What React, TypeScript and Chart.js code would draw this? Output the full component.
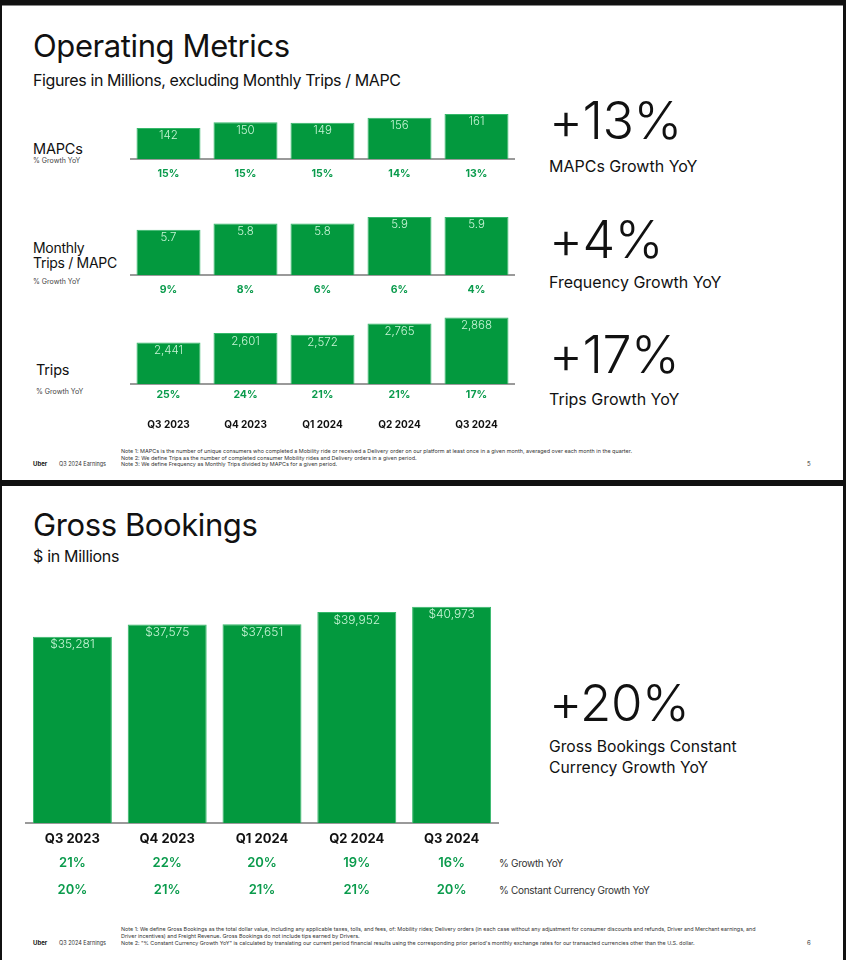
import React, { useEffect, useRef } from 'react';
import { Chart, registerables } from 'chart.js';

Chart.register(...registerables);

// ---------- data ----------
const quarters = ['Q3 2023', 'Q4 2023', 'Q1 2024', 'Q2 2024', 'Q3 2024'];

const mapcs = [142, 150, 149, 156, 161];
const mapcsGrowth = ['15%', '15%', '15%', '14%', '13%'];

const tripsPerMapc = [5.7, 5.8, 5.8, 5.9, 5.9];
const tripsPerMapcGrowth = ['9%', '8%', '6%', '6%', '4%'];

const trips = [2441, 2601, 2572, 2765, 2868];
const tripsGrowth = ['25%', '24%', '21%', '21%', '17%'];

const grossBookings = [35281, 37575, 37651, 39952, 40973];
const gbGrowth = ['21%', '22%', '20%', '19%', '16%'];
const gbCcGrowth = ['20%', '21%', '21%', '21%', '20%'];

// ---------- styles ----------
const FONT = 'Inter, "Open Sans", "DejaVu Sans", sans-serif';
const BAR = '#03993e';
const BAR_EDGE = '#35b86a';
const VALUE_COLOR = '#c9f5d7';
const GROWTH_COLOR = '#0a9b4c';
const AXIS = '#9a9a9a';

type Row = { values: string[]; offset: number; font: string; color: string };

function makeBarText(format: (v: number) => string, valueFont: string, valueOffset: number, rows: Row[]) {
  return {
    id: 'barText',
    afterDatasetsDraw(chart: any) {
      const { ctx } = chart;
      const meta = chart.getDatasetMeta(0);
      const xScale = chart.scales.x;
      const data = chart.data.datasets[0].data as number[];
      ctx.save();
      ctx.textAlign = 'center';
      ctx.textBaseline = 'middle';
      meta.data.forEach((bar: any, i: number) => {
        ctx.font = valueFont;
        ctx.fillStyle = VALUE_COLOR;
        ctx.fillText(format(data[i]), bar.x, bar.y + valueOffset);
        rows.forEach((row) => {
          ctx.font = row.font;
          ctx.fillStyle = row.color;
          ctx.fillText(row.values[i], xScale.getPixelForValue(i), xScale.top + row.offset);
        });
      });
      ctx.restore();
    },
  };
}

type BarProps = {
  left: number;
  top: number;
  width: number;
  areaHeight: number;
  axisHeight: number;
  data: number[];
  min: number;
  max: number;
  barPct: number;
  showTicks: boolean;
  tickFont: number;
  tickLength: number;
  tickPadding: number;
  format: (v: number) => string;
  valueFont: string;
  valueOffset: number;
  rows: Row[];
};

function BarChart(p: BarProps) {
  const ref = useRef<HTMLCanvasElement | null>(null);
  useEffect(() => {
    if (!ref.current) return;
    const chart = new Chart(ref.current, {
      type: 'bar',
      data: {
        labels: quarters,
        datasets: [
          {
            data: p.data,
            backgroundColor: BAR,
            borderColor: BAR_EDGE,
            borderWidth: 1,
            categoryPercentage: 1,
            barPercentage: p.barPct,
          },
        ],
      },
      options: {
        animation: false,
        responsive: false,
        devicePixelRatio: 1,
        layout: { padding: 0 },
        plugins: { legend: { display: false }, tooltip: { enabled: false } },
        scales: {
          x: {
            grid: { display: false, tickLength: p.tickLength },
            border: { color: AXIS, width: 2 },
            ticks: {
              display: p.showTicks,
              color: '#111',
              font: { family: FONT, size: p.tickFont, weight: 'bold' },
              padding: p.tickPadding,
              maxRotation: 0,
            },
            afterFit: (s: any) => {
              s.height = p.axisHeight;
            },
          },
          y: { display: false, min: p.min, max: p.max },
        },
      },
      plugins: [makeBarText(p.format, p.valueFont, p.valueOffset, p.rows)],
    } as any);
    return () => chart.destroy();
  }, []);
  const h = p.areaHeight + p.axisHeight;
  return (
    <canvas
      ref={ref}
      width={p.width}
      height={h}
      style={{ position: 'absolute', left: p.left, top: p.top, width: p.width, height: h }}
    />
  );
}

function T(props: {
  x: number;
  y: number;
  size: number;
  children: React.ReactNode;
  weight?: number;
  color?: string;
  ls?: number;
}) {
  const { x, y, size, weight = 400, color = '#111', ls = 0 } = props;
  return (
    <div
      style={{
        position: 'absolute',
        left: x,
        top: y - size * 0.6,
        fontSize: size,
        lineHeight: `${size * 1.2}px`,
        fontWeight: weight,
        color,
        whiteSpace: 'nowrap',
        letterSpacing: ls,
        fontFamily: FONT,
      }}
    >
      {props.children}
    </div>
  );
}

const growthFontTop = `bold 10.5px ${FONT}`;
const growthFontBottom = `600 13px ${FONT}`;
const valueFontTop = `300 11.5px ${FONT}`;
const valueFontBottom = `300 12px ${FONT}`;

export default function App() {
  useEffect(() => {
    document.body.style.margin = '0';
  }, []);
  return (
    <div
      style={{
        position: 'absolute',
        left: 0,
        top: 0,
        width: 846,
        height: 960,
        background: '#fff',
        overflow: 'hidden',
        fontFamily: FONT,
      }}
    >
      {/* frame */}
      <div style={{ position: 'absolute', left: 0, top: 0, width: 846, height: 5, background: '#111' }} />
      <div style={{ position: 'absolute', left: 0, top: 5, width: 846, height: 1, background: '#888' }} />
      <div style={{ position: 'absolute', left: 0, top: 0, width: 2, height: 960, background: '#111' }} />
      <div style={{ position: 'absolute', left: 843, top: 0, width: 3, height: 960, background: '#111' }} />
      <div style={{ position: 'absolute', left: 0, top: 480, width: 846, height: 6, background: '#111' }} />

      {/* ---------- slide 1 ---------- */}
      <T x={33} y={46} size={31} ls={-0.4}>Operating Metrics</T>
      <T x={33} y={81} size={16} ls={-0.4}>Figures in Millions, excluding Monthly Trips / MAPC</T>

      <T x={33} y={148.5} size={14.5} ls={-0.2}>MAPCs</T>
      <T x={33} y={161} size={7} color="#444">% Growth YoY</T>

      <T x={33} y={248} size={14} ls={-0.3}>Monthly</T>
      <T x={33} y={263} size={14} ls={-0.3}>Trips / MAPC</T>
      <T x={33} y={282} size={7} color="#444">% Growth YoY</T>

      <T x={36} y={370} size={14.5} ls={-0.2}>Trips</T>
      <T x={36} y={392.5} size={7} color="#444">% Growth YoY</T>

      <BarChart
        left={130}
        top={104}
        width={385}
        areaHeight={55}
        axisHeight={26}
        data={mapcs}
        min={100}
        max={174.6}
        barPct={0.831}
        showTicks={false}
        tickFont={10}
        tickLength={8}
        tickPadding={0}
        format={(v) => String(v)}
        valueFont={valueFontTop}
        valueOffset={8}
        rows={[{ values: mapcsGrowth, offset: 14.5, font: growthFontTop, color: GROWTH_COLOR }]}
      />
      <BarChart
        left={130}
        top={212}
        width={385}
        areaHeight={63}
        axisHeight={26}
        data={tripsPerMapc}
        min={5}
        max={5.977}
        barPct={0.831}
        showTicks={false}
        tickFont={10}
        tickLength={8}
        tickPadding={0}
        format={(v) => v.toFixed(1)}
        valueFont={valueFontTop}
        valueOffset={8}
        rows={[{ values: tripsPerMapcGrowth, offset: 14.5, font: growthFontTop, color: GROWTH_COLOR }]}
      />
      <BarChart
        left={130}
        top={310}
        width={385}
        areaHeight={74}
        axisHeight={52}
        data={trips}
        min={1730}
        max={2995}
        barPct={0.831}
        showTicks={true}
        tickFont={10}
        tickLength={33}
        tickPadding={2}
        format={(v) => v.toLocaleString('en-US')}
        valueFont={valueFontTop}
        valueOffset={8}
        rows={[{ values: tripsGrowth, offset: 10.5, font: growthFontTop, color: GROWTH_COLOR }]}
      />

      <T x={549} y={121.5} size={52} weight={300} ls={-0.5}>+13%</T>
      <T x={549} y={167} size={16}>MAPCs Growth YoY</T>
      <T x={549} y={240} size={52} weight={300} ls={-0.5}>+4%</T>
      <T x={549} y={283} size={16}>Frequency Growth YoY</T>
      <T x={549} y={355} size={52} weight={300} ls={-0.5}>+17%</T>
      <T x={549} y={400} size={16}>Trips Growth YoY</T>

      <T x={33} y={464} size={6} weight={700}>Uber</T>
      <T x={59} y={464} size={5.5} color="#333">Q3 2024 Earnings</T>
      <T x={121} y={451} size={5.45} color="#333">
        Note 1: MAPCs is the number of unique consumers who completed a Mobility ride or received a Delivery order on our platform at least once in a given month, averaged over each month in the quarter.
      </T>
      <T x={121} y={458} size={5.45} color="#333">
        Note 2: We define Trips as the number of completed consumer Mobility rides and Delivery orders in a given period.
      </T>
      <T x={121} y={464.5} size={5.45} color="#333">
        Note 3: We define Frequency as Monthly Trips divided by MAPCs for a given period.
      </T>
      <T x={807} y={464} size={6} color="#333">5</T>

      {/* ---------- slide 2 ---------- */}
      <T x={33} y={525} size={31} ls={-0.4}>Gross Bookings</T>
      <T x={33} y={557} size={16} ls={-0.3}>$ in Millions</T>

      <BarChart
        left={25}
        top={600}
        width={474}
        areaHeight={223}
        axisHeight={80}
        data={grossBookings}
        min={0}
        max={42235}
        barPct={0.833}
        showTicks={true}
        tickFont={13}
        tickLength={7}
        tickPadding={1}
        format={(v) => '$' + v.toLocaleString('en-US')}
        valueFont={valueFontBottom}
        valueOffset={8}
        rows={[
          { values: gbGrowth, offset: 40, font: growthFontBottom, color: GROWTH_COLOR },
          { values: gbCcGrowth, offset: 67, font: growthFontBottom, color: GROWTH_COLOR },
        ]}
      />
      <T x={499} y={863} size={10} color="#333" ls={-0.3}>% Growth YoY</T>
      <T x={499} y={890} size={10} color="#333" ls={-0.3}>% Constant Currency Growth YoY</T>

      <T x={549} y={703} size={51} weight={300} ls={-0.5}>+20%</T>
      <T x={549} y={747} size={15.7}>Gross Bookings Constant</T>
      <T x={549} y={768} size={15.7}>Currency Growth YoY</T>

      <T x={121} y={929} size={5.4} color="#333">
        Note 1: We define Gross Bookings as the total dollar value, including any applicable taxes, tolls, and fees, of: Mobility rides; Delivery orders (in each case without any adjustment for consumer discounts and refunds, Driver and Merchant earnings, and
      </T>
      <T x={121} y={936} size={5.4} color="#333">
        Driver incentives) and Freight Revenue. Gross Bookings do not include tips earned by Drivers.
      </T>
      <T x={121} y={943} size={5.4} color="#333">
        Note 2: "% Constant Currency Growth YoY" is calculated by translating our current period financial results using the corresponding prior period's monthly exchange rates for our transacted currencies other than the U.S. dollar.
      </T>
      <T x={33} y={943} size={6} weight={700}>Uber</T>
      <T x={59} y={943} size={5.5} color="#333">Q3 2024 Earnings</T>
      <T x={807} y={943} size={6} color="#333">6</T>
    </div>
  );
}
